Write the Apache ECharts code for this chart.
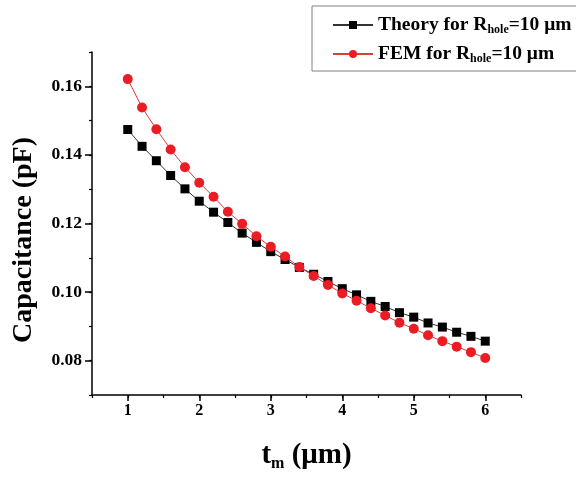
<!DOCTYPE html>
<html>
<head>
<meta charset="utf-8">
<title>Capacitance vs membrane thickness</title>
<script src="https://cdn.jsdelivr.net/npm/echarts@6/dist/echarts.min.js"></script>
<style>
  html, body { margin: 0; padding: 0; background: #fff; }
  #chart { width: 576px; height: 477px; }
</style>
</head>
<body>
<div id="chart"></div>
<script>
// Membrane thickness t_m (µm)
var thickness = [1.0, 1.2, 1.4, 1.6, 1.8, 2.0, 2.2, 2.4, 2.6, 2.8, 3.0, 3.2, 3.4,
                 3.6, 3.8, 4.0, 4.2, 4.4, 4.6, 4.8, 5.0, 5.2, 5.4, 5.6, 5.8, 6.0];

// Capacitance (pF), analytical model, R_hole = 10 µm
var theoryCap = [0.1474, 0.1425, 0.1383, 0.1340, 0.1301, 0.1265, 0.1233, 0.1203, 0.1172,
                 0.1145, 0.1118, 0.1095, 0.1072, 0.1052, 0.1031, 0.1010, 0.0992, 0.0973,
                 0.0958, 0.0940, 0.0927, 0.0910, 0.0898, 0.0883, 0.0871, 0.0857];

// Capacitance (pF), finite-element simulation, R_hole = 10 µm
var femCap = [0.1621, 0.1538, 0.1475, 0.1416, 0.1364, 0.1319, 0.1278, 0.1234, 0.1199,
              0.1163, 0.1132, 0.1104, 0.1073, 0.1047, 0.1021, 0.0996, 0.0975, 0.0953,
              0.0932, 0.0911, 0.0893, 0.0874, 0.0857, 0.0841, 0.0825, 0.0808];

// Labelled ticks
var xTickLabels = [1, 2, 3, 4, 5, 6];
var yTickLabels = [0.08, 0.10, 0.12, 0.14, 0.16];

var FONT = '"Liberation Serif", "Times New Roman", serif';

function pairs(xs, ys) {
  return xs.map(function (x, i) { return [x, ys[i]]; });
}

var chart = echarts.init(document.getElementById('chart'), null, { renderer: 'canvas' });

var axisLineStyle = { color: '#000', width: 1.5 };

var option = {
  backgroundColor: '#fff',
  animation: false,
  grid: { left: 92, top: 52, right: 55, bottom: 78, containLabel: false },
  legend: {
    orient: 'vertical',
    left: 312,
    top: 6,
    padding: [9, 20, 6, 20],
    itemGap: 8,
    itemWidth: 40,
    itemHeight: 10,
    borderColor: '#808080',
    borderWidth: 1,
    backgroundColor: '#fff',
    data: ['theory', 'fem'],
    formatter: function (name) {
      var head = name === 'theory' ? 'Theory for R' : 'FEM for R';
      return '{a|' + head + '}{s|hole}{a|=10 μm}';
    },
    textStyle: {
      rich: {
        a: { fontFamily: FONT, fontWeight: 'bold', fontSize: 19.5, color: '#000', lineHeight: 22 },
        s: { fontFamily: FONT, fontWeight: 'bold', fontSize: 12, color: '#000', lineHeight: 6, verticalAlign: 'bottom' }
      }
    }
  },
  xAxis: [{
    type: 'value',
    min: 0.5, max: 6.5, interval: 0.5,
    name: '{a|t}{s|m}{a| (μm)}',
    nameLocation: 'middle',
    nameGap: 45,
    nameTextStyle: {
      rich: {
        a: { fontFamily: FONT, fontWeight: 'bold', fontSize: 29, color: '#000', lineHeight: 32 },
        s: { fontFamily: FONT, fontWeight: 'bold', fontSize: 16, color: '#000', lineHeight: 8, verticalAlign: 'bottom' }
      }
    },
    axisLine: { show: true, onZero: false, lineStyle: axisLineStyle },
    axisTick: { show: true, inside: false, length: 6, customValues: xTickLabels, lineStyle: { color: '#000', width: 1.5 } },
    axisLabel: {
      customValues: xTickLabels,
      margin: 8,
      fontFamily: FONT, fontWeight: 'bold', fontSize: 16, color: '#000',
      formatter: function (v) { return String(Math.round(v)); }
    },
    splitLine: { show: false }
  }, {
    // short ticks at every half step
    type: 'value',
    position: 'bottom',
    min: 0.5, max: 6.5, interval: 0.5,
    axisLine: { show: false },
    axisTick: { show: true, inside: false, length: 3, lineStyle: { color: '#000', width: 1.2 } },
    axisLabel: { show: false },
    splitLine: { show: false }
  }],
  yAxis: [{
    type: 'value',
    min: 0.07, max: 0.17, interval: 0.01,
    axisLine: { show: true, onZero: false, lineStyle: axisLineStyle },
    axisTick: { show: true, inside: false, length: 7, customValues: yTickLabels, lineStyle: { color: '#000', width: 1.5 } },
    axisLabel: {
      customValues: yTickLabels,
      margin: 10,
      fontFamily: FONT, fontWeight: 'bold', fontSize: 17.5, color: '#000',
      formatter: function (v) { return v.toFixed(2); }
    },
    splitLine: { show: false }
  }, {
    // short ticks at every 0.01
    type: 'value',
    position: 'left',
    min: 0.07, max: 0.17, interval: 0.01,
    axisLine: { show: false },
    axisTick: { show: true, inside: false, length: 3, lineStyle: { color: '#000', width: 1.2 } },
    axisLabel: { show: false },
    splitLine: { show: false }
  }],
  graphic: [{
    type: 'text',
    x: 24,
    y: 240,
    rotation: Math.PI / 2,
    style: {
      text: 'Capacitance (pF)',
      fontFamily: FONT,
      fontWeight: 'bold',
      fontSize: 28,
      fill: '#000',
      align: 'center',
      verticalAlign: 'middle'
    }
  }],
  series: [{
    name: 'theory',
    type: 'line',
    xAxisIndex: 0,
    yAxisIndex: 0,
    data: pairs(thickness, theoryCap),
    symbol: 'rect',
    symbolSize: 9,
    showAllSymbol: true,
    lineStyle: { color: '#333', width: 1 },
    itemStyle: { color: '#000', borderWidth: 0 },
    z: 2
  }, {
    name: 'fem',
    type: 'line',
    xAxisIndex: 0,
    yAxisIndex: 0,
    data: pairs(thickness, femCap),
    symbol: 'circle',
    symbolSize: 10,
    showAllSymbol: true,
    lineStyle: { color: '#d8403c', width: 1 },
    itemStyle: { color: '#ec1c24', borderWidth: 0 },
    z: 3
  }]
};

chart.setOption(option);
</script>
</body>
</html>
